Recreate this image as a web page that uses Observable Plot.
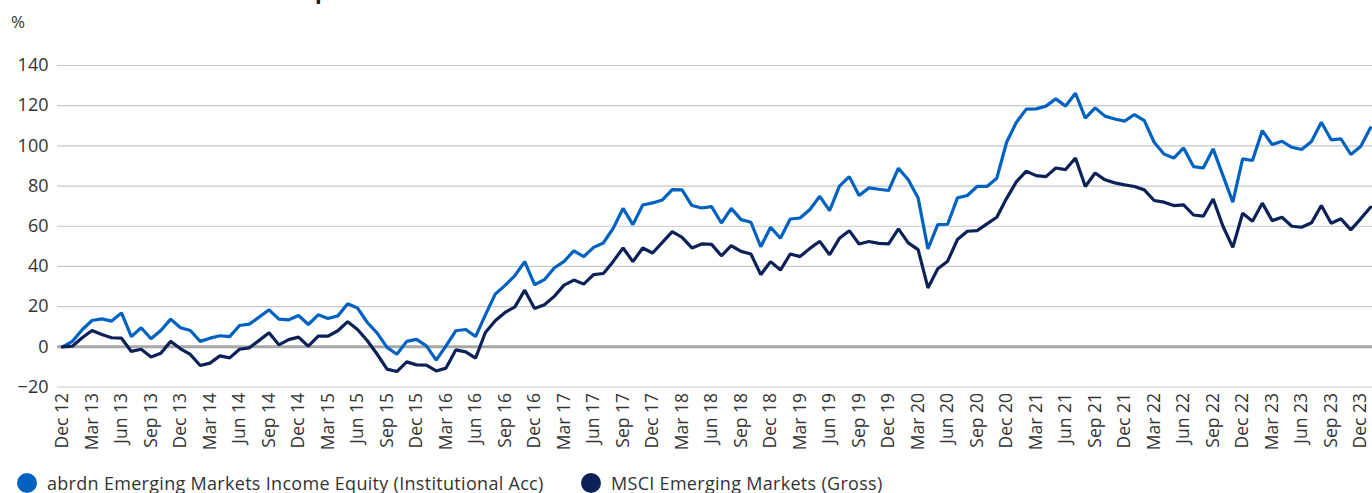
<!DOCTYPE html>
<html><head><meta charset="utf-8">
<script src="https://cdn.jsdelivr.net/npm/d3@7"></script>
<script src="https://cdn.jsdelivr.net/npm/@observablehq/plot@0.6"></script>
<style>
html,body{margin:0;padding:0;background:#fff;overflow:hidden}
body{width:1372px;height:493px;position:relative;font-family:"Open Sans",sans-serif;color:#333}
#title{position:absolute;left:12px;top:-22px;font-size:22px;font-weight:700;color:#1a1a1a;white-space:nowrap;line-height:24px}
#unit{position:absolute;left:11px;top:11px;font-size:17px;color:#333;line-height:22px}
#chart{position:absolute;left:0;top:0}
.item{position:absolute;top:471px;display:flex;align-items:center;font-size:18px;letter-spacing:0.3px;color:#333;white-space:nowrap;line-height:24px}
.sw{width:20px;height:20px;border-radius:50%;display:inline-block;margin-right:10px}
</style></head>
<body>
<div id="title">Cumulative fund and index performance</div>
<div id="unit">%</div>
<div id="chart"></div>
<div id="legend"></div>
<script>
const seriesNames = ["abrdn Emerging Markets Income Equity (Institutional Acc)", "MSCI Emerging Markets (Gross)"];
const seriesColors = ["#0062c0", "#0b2158"];

const tickLabels = ["Dec 12","Mar 13","Jun 13","Sep 13","Dec 13","Mar 14","Jun 14","Sep 14","Dec 14",
"Mar 15","Jun 15","Sep 15","Dec 15","Mar 16","Jun 16","Sep 16","Dec 16","Mar 17","Jun 17","Sep 17","Dec 17",
"Mar 18","Jun 18","Sep 18","Dec 18","Mar 19","Jun 19","Sep 19","Dec 19","Mar 20","Jun 20","Sep 20","Dec 20",
"Mar 21","Jun 21","Sep 21","Dec 21","Mar 22","Jun 22","Sep 22","Dec 22","Mar 23","Jun 23","Sep 23","Dec 23"];

const yTicks = [-20, 0, 20, 40, 60, 80, 100, 120, 140];

const fund = [
0, 2.7, 8.5, 13.1, 13.9, 12.8, 16.9, 5.1, 9.5, 4.0, 8.1, 13.8, 9.5, 8.1, 2.7, 4.3, 5.5, 5.1, 10.6, 11.3, 14.8, 18.4, 13.8, 13.4, 15.6, 11.1, 15.9,
14.1, 15.4, 21.4, 19.3, 12.1, 6.8, -0.3, -3.7, 2.7, 3.7, 0.5, -6.6, 0.5, 8.0, 8.6, 5.1, 15.9, 26.2, 30.6, 35.4, 42.4, 30.9, 33.4, 39.2, 42.5,
47.8, 44.9, 49.5, 51.7, 59.0, 68.9, 60.8, 70.6, 71.6, 73.1, 78.2, 78.1, 70.3, 69.1, 69.8, 61.6, 68.9, 63.3, 62.0, 49.8, 59.5, 54.0, 63.6, 64.1, 68.3, 74.9, 67.8,
80.0, 84.7, 75.3, 79.1, 78.4, 77.8, 88.9, 83.1, 74.1, 48.7, 60.8, 61.0, 74.1, 75.3, 79.8, 79.8, 83.9, 101.8, 111.8, 118.3, 118.4, 119.8, 123.4, 119.8, 126.2, 113.8,
118.9, 114.8, 113.4, 112.3, 115.6, 112.6, 101.8, 96.0, 93.9, 99.0, 89.7, 89.0, 98.5, 85.2, 72.0, 93.5, 92.7, 107.6, 100.7, 102.3, 99.3, 98.2, 102.2, 111.8, 103.0, 103.5, 95.7, 99.7, 109.0
];

const msci = [
0, 0.3, 4.5, 8.1, 6.1, 4.5, 4.3, -2.3, -1.2, -5.1, -3.2, 2.7, -1.0, -3.8, -9.3, -8.1, -4.5, -5.5, -1.2, -0.5, 3.2, 7.0, 1.0, 3.6, 4.8, 0.3, 5.3,
5.3, 8.0, 12.5, 8.6, 3.0, -3.7, -11.1, -12.3, -7.5, -9.0, -9.1, -12.0, -10.6, -1.5, -2.5, -5.6, 7.1, 13.0, 17.1, 19.9, 28.2, 19.1, 20.9, 25.1, 30.7,
33.2, 31.2, 35.9, 36.5, 42.5, 49.2, 42.4, 49.2, 46.7, 52.0, 57.3, 54.5, 49.2, 51.2, 51.0, 45.3, 50.3, 47.5, 46.2, 35.9, 42.4, 38.2, 46.2, 44.9, 49.0, 52.5, 45.8,
54.0, 57.8, 51.2, 52.4, 51.5, 51.2, 58.7, 51.7, 48.4, 29.3, 38.8, 42.6, 53.4, 57.5, 57.8, 61.2, 64.5, 73.9, 82.2, 87.4, 85.2, 84.7, 89.0, 88.2, 94.0, 79.8,
86.5, 83.1, 81.6, 80.6, 79.8, 78.1, 72.8, 72.0, 70.3, 70.6, 65.6, 65.0, 73.6, 60.0, 49.5, 66.5, 62.5, 71.5, 62.8, 64.5, 60.0, 59.5, 61.7, 70.3, 61.5, 63.7, 58.2, 63.7, 69.5
];

const rows = [];
fund.forEach((v, i) => rows.push({i, v, s: seriesNames[0]}));
msci.forEach((v, i) => rows.push({i, v, s: seriesNames[1]}));
const tickIdx = tickLabels.map((_, k) => k * 3);

const chart = Plot.plot({
  width: 1372, height: 450,
  marginLeft: 62, marginRight: 2, marginTop: 65, marginBottom: 63.5,
  style: {fontFamily: "'Open Sans', sans-serif", fontSize: "18px", color: "#333", background: "transparent", overflow: "visible"},
  x: {domain: [0, fund.length - 1]},
  y: {domain: [-20, 140]},
  color: {domain: seriesNames, range: seriesColors},
  marks: [
    Plot.ruleY(yTicks.filter(v => v !== 0), {stroke: "#c8c8c8", strokeWidth: 1.2, insetLeft: -5, insetRight: -2}),
    Plot.ruleY([0], {stroke: "#a8a8a8", strokeWidth: 3, insetLeft: -5, insetRight: -2}),
    Plot.lineY(rows, {x: "i", y: "v", z: "s", stroke: "s", strokeWidth: 3.2, strokeLinejoin: "miter", curve: "linear"}),
    Plot.axisY({ticks: yTicks, tickSize: 0, tickPadding: 14, label: null, fontSize: 18}),
    Plot.axisX({ticks: tickIdx, tickFormat: i => tickLabels[i / 3], tickRotate: -90, tickSize: 0, tickPadding: 6, label: null, fontSize: 17.5})
  ]
});
document.getElementById("chart").appendChild(chart);

const legend = document.getElementById("legend");
const lefts = [17, 581];
seriesNames.forEach((n, k) => {
  const d = document.createElement("div");
  d.className = "item";
  d.style.left = lefts[k] + "px";
  d.innerHTML = `<span class="sw" style="background:${seriesColors[k]}"></span><span>${n}</span>`;
  legend.appendChild(d);
});
</script>
</body></html>
